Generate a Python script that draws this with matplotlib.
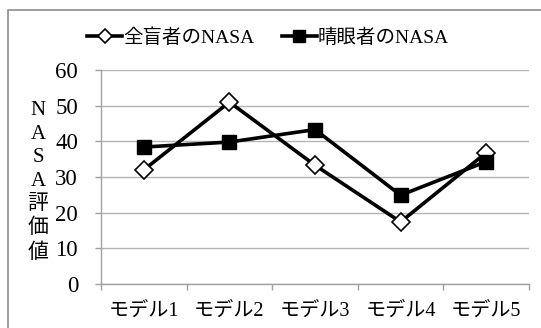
import matplotlib
matplotlib.use("Agg")
import matplotlib.pyplot as plt
from matplotlib.patches import Rectangle

plt.rcParams['font.family'] = ['Liberation Serif', 'Noto Sans CJK JP', 'DejaVu Sans']

categories = ["モデル1", "モデル2", "モデル3", "モデル4", "モデル5"]
blind_nasa = [32, 51, 33.3, 17.4, 36.8]
sighted_nasa = [38.4, 39.8, 43.3, 24.9, 34.3]
series_names = ["全盲者のNASA", "晴眼者のNASA"]
y_ticks = [0, 10, 20, 30, 40, 50, 60]
y_label = "NASA評価値"

W, H = 541, 328
fig = plt.figure(figsize=(W / 100, H / 100), dpi=100)
fig.patch.set_facecolor("white")

# outer chart frame
fig.patches.append(Rectangle((7.5 / W, -0.1), 1.2, (H - 9.5) / H + 0.1,
                             transform=fig.transFigure, fill=False,
                             edgecolor="#8c8c8c", linewidth=1.2))

ax = fig.add_axes([101 / W, 1 - 284 / H, 428 / W, 214 / H])
x = list(range(len(categories)))

ax.plot(x, blind_nasa, color="black", linewidth=2.6, marker="D",
        markersize=9, markerfacecolor="white", markeredgecolor="black",
        markeredgewidth=1.2, label=series_names[0], zorder=3)
ax.plot(x, sighted_nasa, color="black", linewidth=2.6, marker="s",
        markersize=10, markerfacecolor="black", markeredgecolor="black",
        label=series_names[1], zorder=3)

ax.set_xlim(-0.5, len(categories) - 0.5)
ax.set_ylim(0, 60)
ax.set_yticks(y_ticks)
ax.set_yticklabels([str(v) for v in y_ticks])
ax.tick_params(axis="y", length=4, color="#a0a0a0", width=1, pad=12.5,
               labelsize=16.5)
ax.set_xticks(x)
ax.set_xticklabels(categories)
ax.set_xticks([i - 0.5 for i in range(len(categories) + 1)], minor=True)
ax.tick_params(axis="x", which="major", length=0, pad=13, labelsize=14.5)
ax.tick_params(axis="x", which="minor", length=4, color="#a0a0a0", width=1)

ax.grid(axis="y", color="#b4b4b4", linewidth=1)
ax.set_axisbelow(True)
for side in ["top", "right"]:
    ax.spines[side].set_visible(False)
for side in ["left", "bottom"]:
    ax.spines[side].set_color("#a0a0a0")
    ax.spines[side].set_linewidth(1)

fig.text(38 / W, 1 - 182 / H, "\n".join(y_label), ha="center", va="center",
         fontsize=15, linespacing=1.32)

fig.legend(loc="center", bbox_to_anchor=(268 / W, 1 - 38 / H), ncol=2,
           frameon=False, fontsize=14, handlelength=1.8, handletextpad=0.05,
           columnspacing=1.4, borderpad=0, markerscale=0.8)

fig.savefig("out.png", dpi=100, facecolor="white")
